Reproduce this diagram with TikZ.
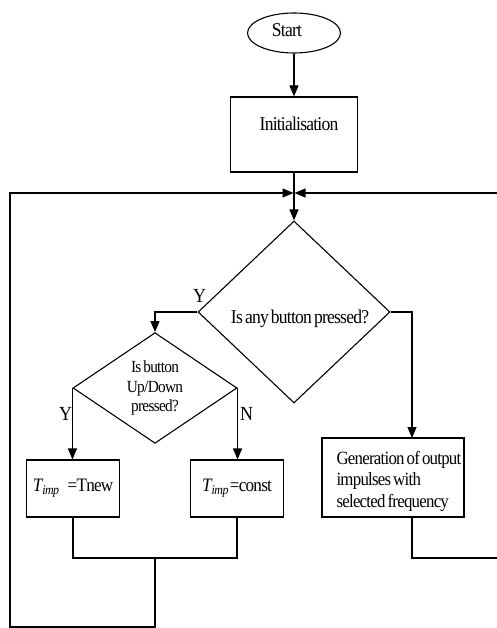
\documentclass[tikz,border=0pt]{standalone}
\usepackage{fontspec}
\setmainfont{Liberation Serif}[FakeStretch=0.9, LetterSpace=-4, WordSpace=0.6]
\usetikzlibrary{shapes.geometric,arrows.meta}
\begin{document}
\begin{tikzpicture}[x=1pt,y=-1pt,
  line width=1.1pt,
  box/.style={draw, rectangle, inner sep=0pt},
  dia/.style={draw, diamond, inner sep=0pt},
  txt/.style={inner sep=0pt, font=\fontsize{19.5}{21.5}\selectfont},
  lbl/.style={inner sep=0pt, font=\fontsize{20}{22}\selectfont},
  arr/.style={-{Triangle[length=11pt,width=9pt]}},
]
\useasboundingbox (0,0) rectangle (497,628);
% shapes
\node[draw, ellipse, minimum width=93pt, minimum height=40pt, inner sep=0pt] (start) at (294,33) {};
\node[txt, anchor=base] (startT) at (287,37) {Start};
\node[box, minimum width=127pt, minimum height=75pt] (init) at (294,134.5) {};
\node[txt, anchor=base] (initT) at (299,131) {Initialisation};
\coordinate (J) at (294,193);
\node[dia, minimum width=192pt, minimum height=182pt] (dec1) at (294,312) {};
\node[txt, anchor=base] (dec1T) at (300,323) {Is any button pressed?};
\node[dia, minimum width=164pt, minimum height=110pt, align=center,
      font=\fontsize{17}{19.5}\selectfont] (dec2) at (155,388) {Is button\\Up/Down\\pressed?};
\node[box, minimum width=93pt, minimum height=57pt, font=\fontsize{19}{22}\selectfont] (tnew) at (73,488.5)
  {{\itshape T}\textsubscript{\itshape imp}\hspace{8pt}=Tnew};
\node[box, minimum width=93pt, minimum height=57pt, font=\fontsize{19}{22}\selectfont] (tconst) at (237,488.5)
  {{\itshape T}\textsubscript{\itshape imp}\hspace{1pt}=const};
\node[box, minimum width=142pt, minimum height=79pt] (gen) at (393,477.5) {};
\node[txt, anchor=west, align=left, font=\fontsize{18.7}{21.5}\selectfont] (genT) at (336,481)
  {Generation of output\\impulses with\\selected frequency};
% labels
\node[lbl] (y1) at (199.5,296) {Y};
\node[lbl] (y2) at (65.5,414) {Y};
\node[lbl] (n2) at (246.5,414) {N};
% helper coordinates
\coordinate (gin) at (412,438);
\coordinate (gout) at (412,517);
\coordinate (m) at (155,558);
\coordinate (bl) at (10,627);
\coordinate (br) at (499,558);
% connectors
\draw[arr] (start.south) -- (start.south |- init.north);
\draw (init.south) -- (J);
\draw[arr] (J) -- (dec1.north);
\draw[arr] (dec1.west) -| (dec2.north);
\draw[arr] (dec2.west) -- (dec2.west |- tnew.north);
\draw[arr] (dec2.east) -- (dec2.east |- tconst.north);
\draw[arr] (dec1.east) -| (gin);
\draw (tnew.south) |- (m) -| (tconst.south);
\draw[arr, shorten >=0.5pt] (m) |- (bl) |- (J);
\draw[arr, shorten >=0.5pt] (gout) |- (br) |- (J);
\end{tikzpicture}
\end{document}
